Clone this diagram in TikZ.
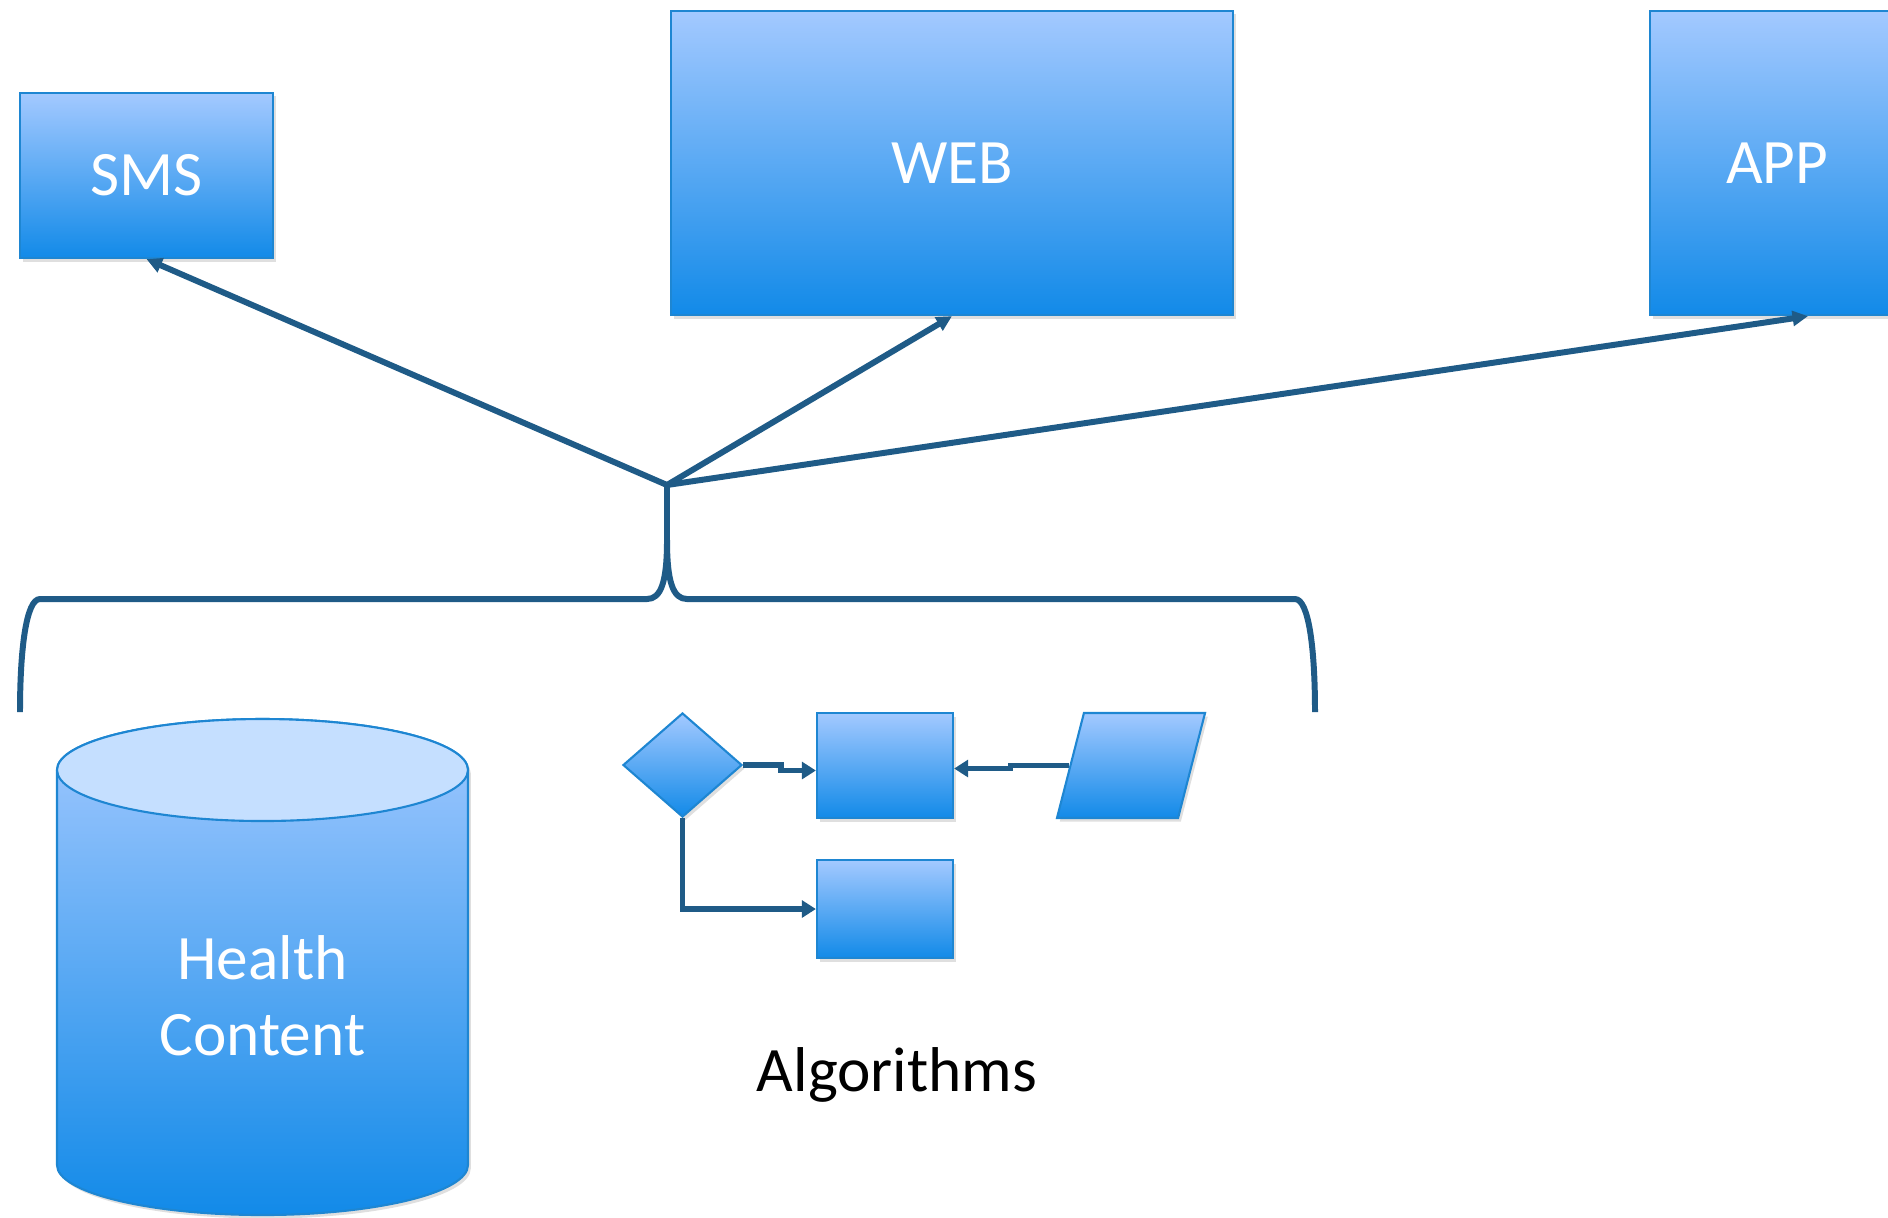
\documentclass[tikz,border=0pt]{standalone}
\usepackage{fontspec}
\setmainfont{Carlito}
\usetikzlibrary{
  arrows.meta,
  positioning,
  calc,
  shapes.geometric,
  shadows,
}
\definecolor{ink}{HTML}{1F5B87}
\definecolor{edge}{HTML}{1E86D2}
\definecolor{shadetop}{HTML}{A3C9FF}
\definecolor{shadebot}{HTML}{128AE8}
\definecolor{lidfill}{HTML}{C5DFFF}
\tikzset{
  >={Triangle[length=4.4pt,width=4.2pt]},
  block/.style={
    draw=edge,
    line width=0.6pt,
    top color=shadetop,
    bottom color=shadebot,
    inner sep=0pt,
    text=white,
    font=\fontsize{18}{21.6}\selectfont,
    drop shadow={opacity=0.25, shadow xshift=0.8pt, shadow yshift=-1pt},
  },
  link/.style={draw=ink, line width=1.7pt, ->},
  flow/.style={draw=ink, line width=1.6pt, -{Triangle[length=4pt,width=4.8pt]}},
  caption/.style={font=\fontsize{18}{21.6}\selectfont, align=center},
}

\begin{document}
\begin{tikzpicture}[x={(0.01cm,0)},y={(0,-0.01cm)}]
  \useasboundingbox (0,0) rectangle (1888,1217);
  \clip (0,0) rectangle (1888,1217);

  % channels
  \node[block, minimum width=2.53cm, minimum height=1.65cm] (sms) at (146.5,175.5) {SMS};
  \node[block, minimum width=5.62cm, minimum height=3.04cm] (web) at (952,163) {WEB};
  \node[block, minimum width=2.54cm, minimum height=3.04cm] (app) at (1777,163) {APP};

  \coordinate (hub) at (667,485);
  \coordinate (cusp) at (667,540);
  \draw[link] (hub) -- (sms.south);
  \draw[link] (hub) -- (web.south);
  \draw[link] (hub) -- ($(app.south)+(31,0)$);

  % brace
  \draw[ink, line width=1.7pt] (hub) -- (cusp);
  \draw[ink, line width=1.7pt]
    (20,712) .. controls (20,650) and (26,599) .. (40,599)
    -- (647,599) .. controls (661,599) and (667,582) .. (cusp)
    .. controls (667,582) and (673,599) .. (687,599)
    -- (1295,599) .. controls (1309,599) and (1315,650) .. (1315,712);

  % health content store
  \shade[top color=shadetop, bottom color=shadebot, draw=edge, line width=0.6pt,
    drop shadow={opacity=0.25, shadow xshift=0.8pt, shadow yshift=-1pt}]
    (57,770) -- (57,1165)
    arc[start angle=180, end angle=0, x radius=205.5, y radius=50]
    -- (468,770)
    arc[start angle=0, end angle=-180, x radius=205.5, y radius=51] -- cycle;
  \draw[edge, fill=lidfill, line width=0.6pt] (262.5,770) ellipse[x radius=205.5, y radius=51];
  \node[caption, text=white] (store) at (262.5,996) {Health\\Content};

  % algorithms
  \node[block, shape=diamond, minimum width=1.19cm, minimum height=1.04cm] (dec) at (682.5,765) {};
  \node[block, minimum width=1.36cm, minimum height=1.05cm] (proc1) at (885,765.5) {};
  \node[block, minimum width=1.36cm, minimum height=0.98cm] (proc2) at (885,909) {};
  \node[block, shape=trapezium, trapezium left angle=74, trapezium right angle=106,
    trapezium stretches=true, inner sep=1pt,
    minimum width=1.48cm, minimum height=1.05cm] (para) at (1131,765.5) {};

  \draw[flow] (dec.east) -- ++(38,0) |- ($(proc1.west)+(0,5)$);
  \draw[flow] (para.left side) -- ++(-59,0) |- ($(proc1.east)+(0,3)$);
  \draw[flow] (dec.south) |- (proc2.west);

  \node[caption] (algo) at (897,1075) {Algorithms};
\end{tikzpicture}
\end{document}
